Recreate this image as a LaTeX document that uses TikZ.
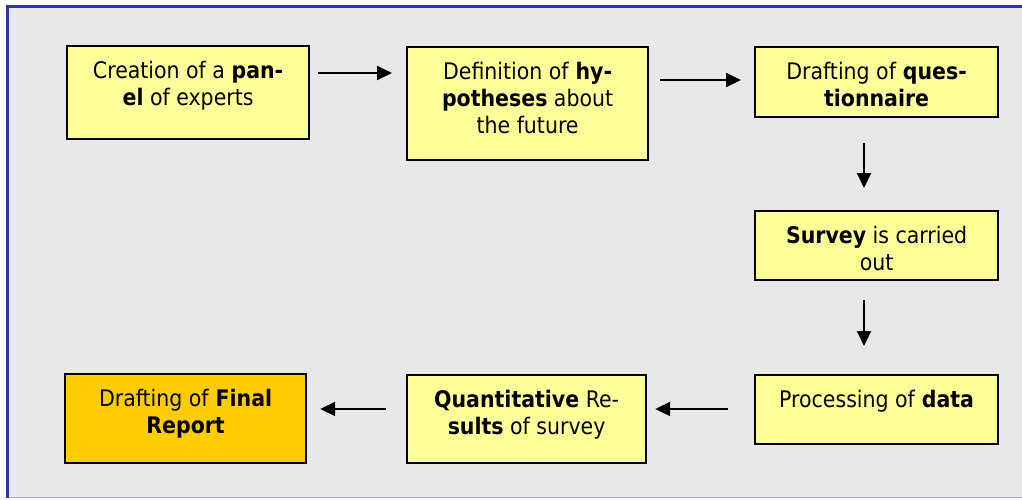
\documentclass[tikz,border=0pt]{standalone}
\usepackage{fontspec}
\setmainfont{DejaVu Sans Condensed}
\usetikzlibrary{arrows.meta,calc}

\definecolor{panelgray}{HTML}{E8E8E8}
\definecolor{frameblue}{HTML}{3333A0}
\definecolor{framelav}{HTML}{AAAADA}
\definecolor{stepyellow}{HTML}{FFFF99}
\definecolor{finalgold}{HTML}{FFCC00}

% Box text: fixed-size parbox, lines centred, first baseline 32pt below the top
\newcommand{\steptext}[3]{%
  \parbox[c][#2pt][t]{#1pt}{\centering\fontsize{22.8}{27}\selectfont
    \rule{0pt}{32pt}#3\par}}

\begin{document}
\begin{tikzpicture}[x=1pt,y=1pt,
  stepbox/.style={draw=black, line width=2.2pt, fill=stepyellow,
                  inner sep=0pt, anchor=north west},
  finalbox/.style={stepbox, fill=finalgold},
  flow/.style={line width=2pt, -{Triangle[length=15pt,width=14pt]}}]

  \useasboundingbox (0,0) rectangle (1022,-499);

  % panel behind the flow chart
  \fill[panelgray] (7.5,-6.5) rectangle (1040,-497.5);
  \draw[framelav, line width=1.6pt] (7.5,-497.5) -- (1040,-497.5);
  \draw[frameblue, line width=2.4pt] (7.5,-497.5) -- (7.5,-6.5) -- (1040,-6.5);

  % process steps
  \node[stepbox] (b1) at (66,-45)
    {\steptext{242}{93}{Creation of a \textbf{pan-}\\\textbf{el} of experts}};
  \node[stepbox] (b2) at (406,-46)
    {\steptext{241}{113}{Definition of \textbf{hy-}\\\textbf{potheses} about\\the future}};
  \node[stepbox] (b3) at (754,-46)
    {\steptext{243}{70}{Drafting of \textbf{ques-}\\\textbf{tionnaire}}};
  \node[stepbox] (b4) at (754,-210)
    {\steptext{243}{69}{\textbf{Survey} is carried\\out}};
  \node[stepbox] (b5) at (754,-374)
    {\steptext{243}{69}{Processing of \textbf{data}}};
  \node[stepbox] (b6) at (406,-374)
    {\steptext{239}{88}{\textbf{Quantitative} Re-\\\textbf{sults} of survey}};
  \node[finalbox] (b7) at (64,-373)
    {\steptext{241}{89}{Drafting of \textbf{Final}\\\textbf{Report}}};

  % connectors
  \draw[flow] ($(b1.north east)+(8,-28)$) -- ($(b2.north west)+(-14,-27)$);
  \draw[flow] ($(b2.north east)+(11,-34)$) -- ($(b3.north west)+(-13,-34)$);
  \draw[flow] ($(b3.south west)+(110,-25)$) -- ($(b4.north west)+(110,22)$);
  \draw[flow] ($(b4.south west)+(110,-19)$) -- ($(b5.north west)+(110,28)$);
  \draw[flow] ($(b5.north west)+(-26,-35)$) -- ($(b6.north east)+(8,-35)$);
  \draw[flow] ($(b6.north west)+(-20,-35)$) -- ($(b7.north east)+(13,-36)$);
\end{tikzpicture}
\end{document}
